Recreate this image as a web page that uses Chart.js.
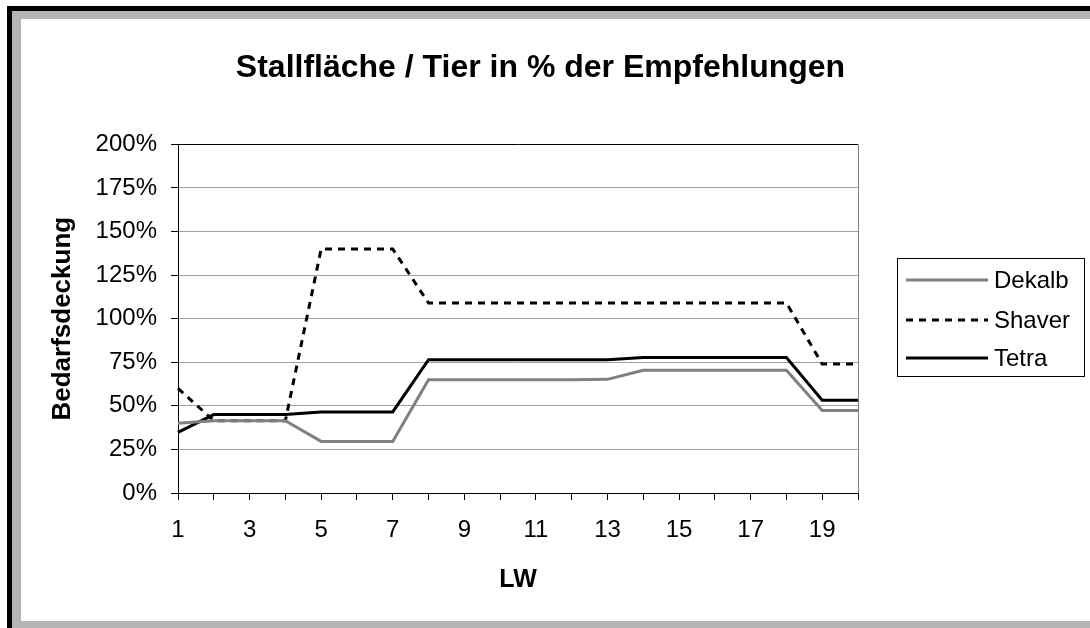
<!DOCTYPE html>
<html>
<head>
<meta charset="utf-8">
<script src="https://cdn.jsdelivr.net/npm/chart.js@4.4.1/dist/chart.umd.min.js"></script>
<style>
  html, body { margin: 0; padding: 0; background: #fff; }
  .frame { position: absolute; }
  #shadow { left: 7px; top: 6px; width: 1083px; height: 622px; background: #000; }
  #edge { left: 12px; top: 11px; width: 1078px; height: 617px; background: #b4b4b4; }
  #inner { left: 21px; top: 19px; width: 1069px; height: 602px; background: #fff; }
  #chart { position: absolute; left: 0; top: 0; }
</style>
</head>
<body>
<div class="frame" id="shadow"></div>
<div class="frame" id="edge"></div>
<div class="frame" id="inner"></div>
<canvas id="chart" width="1090" height="628"></canvas>
<script>
const weeks = ['1', '2', '3', '4', '5', '6', '7', '8', '9', '10',
               '11', '12', '13', '14', '15', '16', '17', '18', '19', '20'];
const dekalb = [40, 41.5, 41.5, 41.5, 29.6, 29.6, 29.6, 65, 65, 65,
                65, 65, 65.2, 70.4, 70.4, 70.4, 70.4, 70.4, 47.4, 47.4];
const shaver = [60, 41.5, 41.5, 41.5, 140, 140, 140, 109, 109, 109,
                109, 109, 109, 109, 109, 109, 109, 109, 74, 74];
const tetra = [34.8, 45, 45, 45, 46.5, 46.5, 46.5, 76.5, 76.5, 76.5,
               76.5, 76.5, 76.5, 77.7, 77.7, 77.7, 77.7, 77.7, 53.2, 53.2];
const yTicks = [0, 25, 50, 75, 100, 125, 150, 175, 200];

const FONT = "'Liberation Sans', Arial, sans-serif";

// rechter Rahmen der Zeichenfläche
const plotBorder = {
    id: 'plotBorder',
    beforeDatasetsDraw(chart) {
        const { ctx, chartArea: a } = chart;
        ctx.save();
        ctx.strokeStyle = '#808080';
        ctx.lineWidth = 1;
        ctx.beginPath();
        ctx.moveTo(Math.round(a.right) + 0.5, a.top);
        ctx.lineTo(Math.round(a.right) + 0.5, a.bottom);
        ctx.stroke();
        ctx.restore();
    }
};

// Legende mit Rahmen wie in Excel
const boxLegend = {
    id: 'boxLegend',
    afterDraw(chart) {
        const { ctx } = chart;
        const x = 897.5, y = 258.5, w = 187, h = 118;
        const rows = [280, 320, 358];
        ctx.save();
        ctx.fillStyle = '#fff';
        ctx.fillRect(x, y, w, h);
        ctx.strokeStyle = '#000';
        ctx.lineWidth = 1;
        ctx.strokeRect(x, y, w, h);
        chart.data.datasets.forEach((ds, i) => {
            const cy = rows[i];
            ctx.strokeStyle = ds.borderColor;
            ctx.lineWidth = ds.borderWidth;
            ctx.setLineDash(ds.borderDash || []);
            ctx.beginPath();
            ctx.moveTo(906, cy);
            ctx.lineTo(988, cy);
            ctx.stroke();
            ctx.setLineDash([]);
            ctx.fillStyle = '#000';
            ctx.font = '24px ' + FONT;
            ctx.textBaseline = 'middle';
            ctx.textAlign = 'left';
            ctx.fillText(ds.label, 994, cy + 1);
        });
        ctx.restore();
    }
};

new Chart(document.getElementById('chart'), {
    type: 'line',
    data: {
        labels: weeks,
        datasets: [
            { label: 'Dekalb', data: dekalb, borderColor: '#808080', borderWidth: 3 },
            { label: 'Shaver', data: shaver, borderColor: '#000', borderWidth: 3, borderDash: [7, 6] },
            { label: 'Tetra', data: tetra, borderColor: '#000', borderWidth: 3 }
        ]
    },
    options: {
        responsive: false,
        animation: false,
        devicePixelRatio: 1,
        layout: { padding: { left: 21, top: 19, right: 30, bottom: 7 } },
        elements: { point: { radius: 0 }, line: { tension: 0 } },
        plugins: {
            legend: { display: false },
            tooltip: { enabled: false },
            title: {
                display: true,
                text: 'Stallfläche / Tier in % der Empfehlungen',
                color: '#000',
                font: { family: FONT, size: 32, weight: 'bold' },
                padding: { top: 30, bottom: 57 }
            }
        },
        scales: {
            x: {
                type: 'category',
                offset: false,
                afterFit(s) { s.height = 128; },
                grid: { drawOnChartArea: false, drawTicks: true, tickLength: 7, tickColor: '#000' },
                border: { color: '#000', width: 1 },
                ticks: {
                    autoSkip: false,
                    maxRotation: 0,
                    color: '#000',
                    padding: 16,
                    font: { family: FONT, size: 24 },
                    callback(v, i) { return i % 2 === 0 ? weeks[i] : ''; }
                },
                title: {
                    display: true,
                    text: 'LW',
                    color: '#000',
                    font: { family: FONT, size: 25, weight: 'bold' },
                    padding: { top: 0, bottom: 26 }
                }
            },
            y: {
                min: 0,
                max: 200,
                afterFit(s) { s.width = 157; },
                afterBuildTicks(s) { s.ticks = yTicks.map(v => ({ value: v })); },
                grid: {
                    color: ctx => ctx.tick && ctx.tick.value === 200 ? '#000' : '#a0a0a0',
                    tickColor: '#000',
                    tickLength: 7
                },
                border: { color: '#000', width: 1 },
                ticks: {
                    color: '#000',
                    padding: 14,
                    font: { family: FONT, size: 24 },
                    callback: v => v + '%'
                },
                title: {
                    display: true,
                    text: 'Bedarfsdeckung',
                    color: '#000',
                    font: { family: FONT, size: 26, weight: 'bold' },
                    padding: { top: 26, bottom: 0 }
                }
            },
            // Platzhalter rechts für die Legende
            legendSpace: {
                position: 'right',
                type: 'linear',
                display: true,
                afterFit(s) { s.width = 202; },
                grid: { display: false, drawTicks: false },
                border: { display: false },
                ticks: { display: false }
            }
        }
    },
    plugins: [plotBorder, boxLegend]
});
</script>
</body>
</html>
